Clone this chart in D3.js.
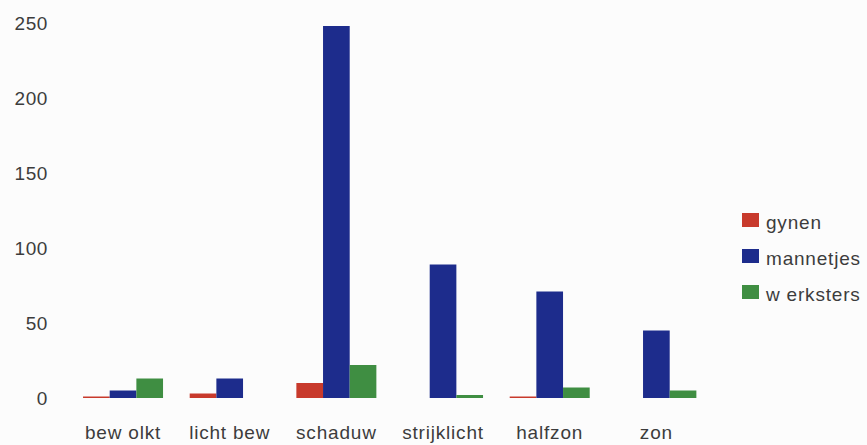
<!DOCTYPE html>
<html lang="nl">
<head>
    <meta charset="UTF-8">
    <title>Mieren per weertype</title>
    <script src="https://d3js.org/d3.v7.min.js"></script>
    <style>
        body {
            margin: 0;
            background: #fcfcfc;
            font-family: 'Liberation Sans', Arial, sans-serif;
            overflow: hidden;
        }
        text { fill: #3c3c3c; }
    </style>
</head>
<body>
    <script>
        const categories = ["bew olkt", "licht bew", "schaduw", "strijklicht", "halfzon", "zon"];
        const seriesNames = ["gynen", "mannetjes", "w erksters"];
        const gynen = [1, 3, 10, 0, 1, 0];
        const mannetjes = [5, 13, 248, 89, 71, 45];
        const werksters = [13, 0, 22, 2, 7, 5];
        const yTicks = [0, 50, 100, 150, 200, 250];
        const colors = ["#c83a2c", "#1d2c8c", "#3f8e42"];

        const width = 867, height = 445;
        const series = [gynen, mannetjes, werksters];

        const svg = d3.select("body").append("svg")
            .attr("width", width)
            .attr("height", height);

        const x0 = d3.scaleBand()
            .domain(categories)
            .range([69.7, 709.7])
            .paddingInner(0.25)
            .paddingOuter(0.125);

        const x1 = d3.scaleBand()
            .domain(seriesNames)
            .range([0, x0.bandwidth()]);

        const y = d3.scaleLinear()
            .domain([0, 250])
            .range([398, 23]);

        // y tick labels, no axis line
        svg.append("g")
            .selectAll("text")
            .data(yTicks)
            .enter().append("text")
            .attr("x", 48)
            .attr("y", d => y(d))
            .attr("dy", "0.36em")
            .attr("text-anchor", "end")
            .style("font-size", "19px")
            .style("letter-spacing", "0.6px")
            .text(d => d);

        const groups = svg.append("g")
            .selectAll("g")
            .data(categories)
            .enter().append("g")
            .attr("transform", d => `translate(${x0(d)},0)`);

        groups.selectAll("rect")
            .data((d, i) => seriesNames.map((s, j) => ({ s, j, v: series[j][i] })))
            .enter().append("rect")
            .attr("x", d => x1(d.s))
            .attr("y", d => y(d.v))
            .attr("width", x1.bandwidth())
            .attr("height", d => y(0) - y(d.v))
            .attr("fill", d => colors[d.j]);

        // category labels
        svg.append("g")
            .selectAll("text")
            .data(categories)
            .enter().append("text")
            .attr("x", d => x0(d) + x0.bandwidth() / 2)
            .attr("y", 439)
            .attr("text-anchor", "middle")
            .style("font-size", "19px")
            .style("letter-spacing", "0.8px")
            .text(d => d);

        // legend
        const legend = svg.append("g")
            .attr("transform", "translate(742,213)");

        const items = legend.selectAll("g")
            .data(seriesNames)
            .enter().append("g")
            .attr("transform", (d, i) => `translate(0,${i * 36})`);

        items.append("rect")
            .attr("width", 17)
            .attr("height", 14)
            .attr("fill", (d, i) => colors[i]);

        items.append("text")
            .attr("x", 24)
            .attr("y", 7)
            .attr("dy", "0.45em")
            .style("font-size", "19px")
            .style("letter-spacing", "0.8px")
            .text(d => d);
    </script>
</body>
</html>
